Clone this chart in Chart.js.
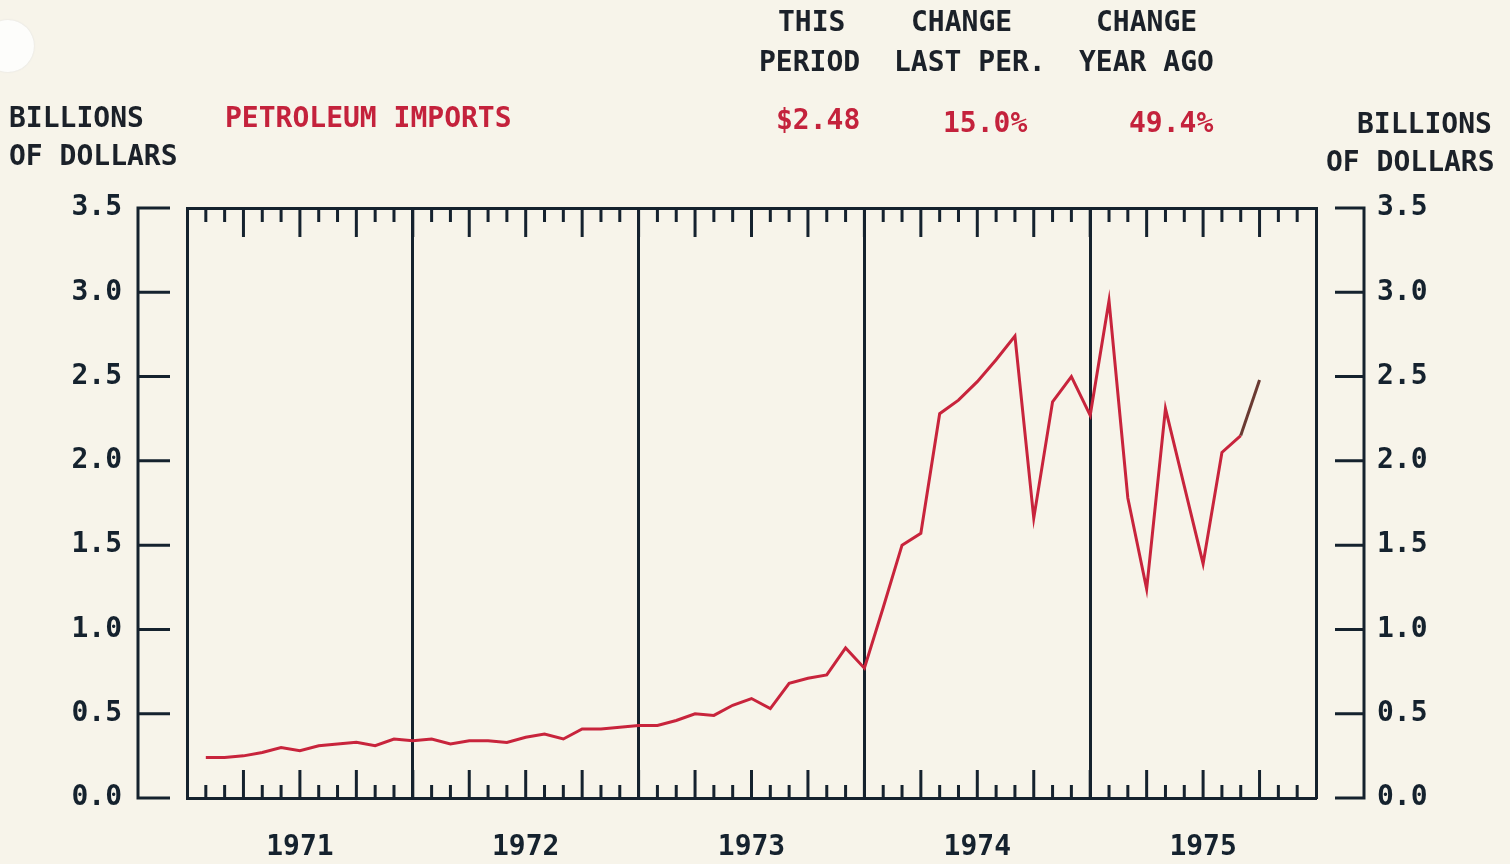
<!DOCTYPE html>
<html>
<head>
<meta charset="utf-8">
<script src="https://cdn.jsdelivr.net/npm/chart.js@4.4.0/dist/chart.umd.min.js"></script>
<style>
  html, body { margin: 0; padding: 0; background: #f7f4ea; }
  #wrap { position: relative; width: 1510px; height: 864px; overflow: hidden; }
  #chart { position: absolute; left: 0; top: 0; }
  .t { position: absolute; font-family: 'DejaVu Sans Mono', monospace; font-weight: bold; font-size: 28px; line-height: 28px; color: #1b2129; white-space: pre; }
  .red { color: #c4223c; }
  #hole { position: absolute; left: -18px; top: 20px; width: 52px; height: 52px; border-radius: 50%; background: #fdfdfb; box-shadow: 0 0 2px #ddd; }
</style>
</head>
<body>
<div id="wrap">
  <canvas id="chart" width="1510" height="864"></canvas>
  <div id="hole"></div>
  <div class="t" style="left:778px; top:8px;">THIS</div>
  <div class="t" style="left:759px; top:48px;">PERIOD</div>
  <div class="t" style="left:911px; top:8px;">CHANGE</div>
  <div class="t" style="left:894px; top:48px;">LAST PER.</div>
  <div class="t" style="left:1096px; top:8px;">CHANGE</div>
  <div class="t" style="left:1079px; top:48px;">YEAR AGO</div>
  <div class="t" style="left:9px; top:104px;">BILLIONS</div>
  <div class="t" style="left:9px; top:142px;">OF DOLLARS</div>
  <div class="t red" style="left:225px; top:104px;">PETROLEUM IMPORTS</div>
  <div class="t red" style="left:776px; top:106px;">$2.48</div>
  <div class="t red" style="left:943px; top:109px;">15.0%</div>
  <div class="t red" style="left:1129px; top:109px;">49.4%</div>
  <div class="t" style="left:1357px; top:110px;">BILLIONS</div>
  <div class="t" style="left:1326px; top:148px;">OF DOLLARS</div>
</div>
<script>
// monthly petroleum imports, billions of dollars, Jan 1971 - Sep 1975
var years = ['1971', '1972', '1973', '1974', '1975'];
var imports = [
	0.24, 0.24, 0.25, 0.27, 0.30, 0.28, 0.31, 0.32, 0.33, 0.31, 0.35, 0.34,
	0.35, 0.32, 0.34, 0.34, 0.33, 0.36, 0.38, 0.35, 0.41, 0.41, 0.42, 0.43,
	0.43, 0.46, 0.50, 0.49, 0.55, 0.59, 0.53, 0.68, 0.71, 0.73, 0.89, 0.77,
	1.13, 1.50, 1.57, 2.28, 2.36, 2.47, 2.60, 2.74, 1.66, 2.35, 2.50, 2.27,
	2.95, 1.78, 1.24, 2.31, 1.85, 1.39, 2.05, 2.15, 2.48
];
var yTicks = [0, 0.5, 1.0, 1.5, 2.0, 2.5, 3.0, 3.5];

var ink = '#15222e';
var red = '#c8243c';

var points = [];
for (var i in imports) {
	points.push({ x: Number(i) + 1, y: imports[i] });
}

// tick marks inside the frame and the bracket scales on both sides
var plotterMarks = {
	id: 'plotterMarks',
	beforeDatasetsDraw: function(chart) {
		var ctx = chart.ctx;
		var area = chart.chartArea;
		var xs = chart.scales.x;
		var ys = chart.scales.y;
		ctx.save();
		ctx.strokeStyle = ink;
		ctx.lineWidth = 3;
		ctx.lineCap = 'butt';
		ctx.beginPath();
		for (var k = 1; k < 60; k++) {
			var px = xs.getPixelForValue(k);
			var quarter = (k % 3 === 0);
			ctx.moveTo(px, area.bottom);
			ctx.lineTo(px, area.bottom - (quarter ? 28 : 13));
			ctx.moveTo(px, area.top);
			ctx.lineTo(px, area.top + (quarter ? 29 : 14));
		}
		// left bracket
		var lx = area.left - 49;
		ctx.moveTo(lx, ys.getPixelForValue(3.5));
		ctx.lineTo(lx, ys.getPixelForValue(0));
		// right bracket
		var rx = area.right + 48;
		ctx.moveTo(rx, ys.getPixelForValue(3.5));
		ctx.lineTo(rx, ys.getPixelForValue(0));
		for (var j in yTicks) {
			var py = ys.getPixelForValue(yTicks[j]);
			ctx.moveTo(lx - 1.5, py);
			ctx.lineTo(area.left - 17, py);
			ctx.moveTo(area.right + 19, py);
			ctx.lineTo(rx + 1.5, py);
		}
		ctx.stroke();
		ctx.restore();
	}
};

var tickFont = { family: 'DejaVu Sans Mono', size: 28, weight: 'bold' };

var ctx = document.getElementById('chart');
var chart = new Chart(ctx, {
	type: 'line',
	data: {
		datasets: [{
			label: 'Petroleum imports',
			data: points,
			borderColor: red,
			borderWidth: 3,
			pointRadius: 0,
			tension: 0,
			fill: false,
			segment: {
				borderColor: function(c) {
					return c.p1DataIndex === imports.length - 1 ? '#6a3a32' : undefined;
				}
			}
		}]
	},
	plugins: [plotterMarks],
	options: {
		responsive: false,
		animation: false,
		events: [],
		layout: { padding: 0 },
		plugins: {
			legend: { display: false },
			tooltip: { enabled: false }
		},
		scales: {
			x: {
				type: 'linear',
				position: 'bottom',
				min: 0,
				max: 60,
				afterBuildTicks: function(scale) {
					scale.ticks = years.map(function(y, i) { return { value: 6 + 12 * i }; });
				},
				afterFit: function(scale) { scale.height = 66; },
				ticks: {
					color: ink,
					font: tickFont,
					padding: 25,
					maxRotation: 0,
					autoSkip: false,
					callback: function(v) { return years[(v - 6) / 12]; }
				},
				grid: { display: false },
				border: { display: true, color: ink, width: 3 }
			},
			x2: {
				type: 'linear',
				position: 'top',
				min: 0,
				max: 60,
				afterBuildTicks: function(scale) {
					scale.ticks = [12, 24, 36, 48].map(function(v) { return { value: v }; });
				},
				afterFit: function(scale) { scale.height = 208; },
				ticks: { display: false },
				grid: { display: true, drawOnChartArea: true, drawTicks: false, color: ink, lineWidth: 3 },
				border: { display: true, color: ink, width: 3 }
			},
			y: {
				position: 'left',
				min: 0,
				max: 3.5,
				afterBuildTicks: function(scale) {
					scale.ticks = yTicks.map(function(v) { return { value: v }; });
				},
				afterFit: function(scale) { scale.width = 187; },
				ticks: {
					color: ink,
					font: tickFont,
					padding: 3,
					callback: function(v) { return v.toFixed(1); }
				},
				grid: { display: true, drawOnChartArea: false, drawTicks: true, tickLength: 62, tickColor: 'rgba(0,0,0,0)' },
				border: { display: true, color: ink, width: 3 }
			},
			y2: {
				position: 'right',
				min: 0,
				max: 3.5,
				afterBuildTicks: function(scale) {
					scale.ticks = yTicks.map(function(v) { return { value: v }; });
				},
				afterFit: function(scale) { scale.width = 194; },
				ticks: {
					color: ink,
					font: tickFont,
					padding: 3,
					callback: function(v) { return v.toFixed(1); }
				},
				grid: { display: true, drawOnChartArea: false, drawTicks: true, tickLength: 58, tickColor: 'rgba(0,0,0,0)' },
				border: { display: true, color: ink, width: 3 }
			}
		}
	}
});
</script>
</body>
</html>
